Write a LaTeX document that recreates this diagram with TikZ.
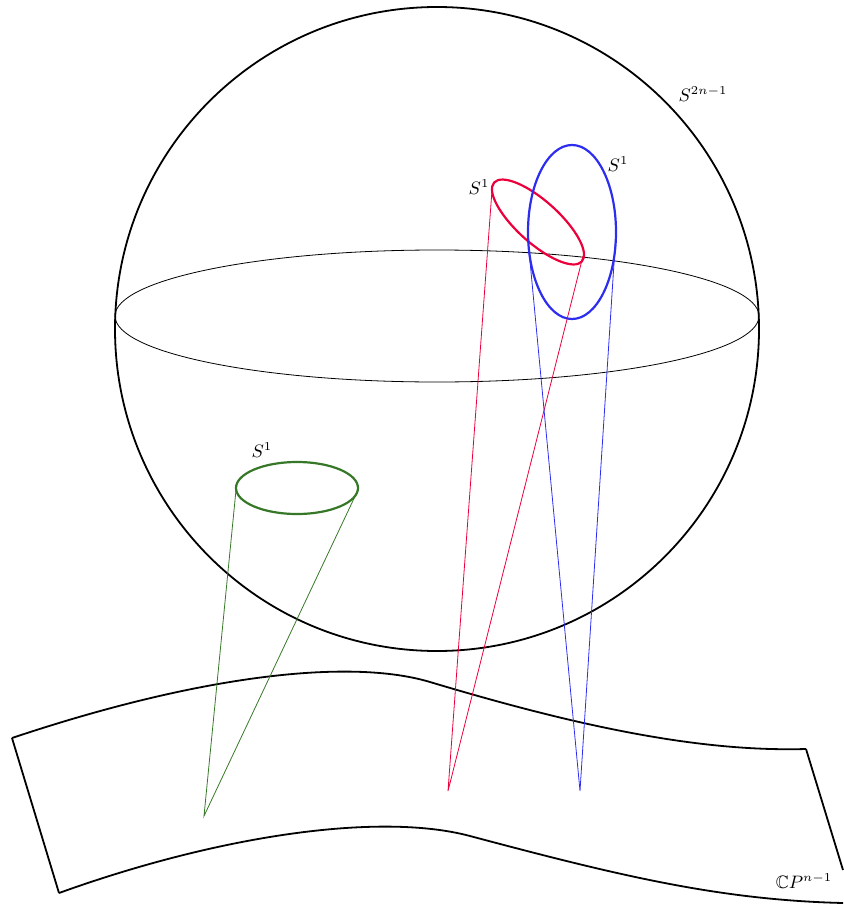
\documentclass[tikz,border=0pt]{standalone}
\usepackage{amsmath,amssymb}
\usepackage{tikz}
\usetikzlibrary{positioning,calc}

\definecolor{fibrered}{RGB}{235,0,60}
\definecolor{fibreblue}{RGB}{45,45,240}
\definecolor{fibregreen}{RGB}{55,120,40}

\begin{document}
\begin{tikzpicture}[x=0.5pt,y=-0.5pt]
    \useasboundingbox (0,0) rectangle (843,904);

    % Sphere S^{2n-1}
    \draw[line width=0.9pt] (437,329) circle[radius=322];
    \draw (437,316) ellipse[x radius=322, y radius=66];
    \node[font=\small] (sphlabel) at (703,94) {$S^{2n-1}$};

    % Fibres
    \draw[fibregreen, line width=1.1pt] (297,488) ellipse[x radius=61, y radius=26];
    \draw[fibrered, line width=1.1pt] (538,222) ellipse[x radius=59, y radius=21, rotate=-42];
    \draw[fibreblue, line width=1.1pt] (572,232) ellipse[x radius=44, y radius=87];
    \node[font=\small] (greenlabel) at (262,450) {$S^1$};
    \node[font=\small] (redlabel) at (479,187) {$S^1$};
    \node[font=\small] (bluelabel) at (618,164) {$S^1$};

    % Base CP^{n-1}
    \coordinate (topL) at (12,738);
    \coordinate (topR) at (806,749);
    \coordinate (botL) at (59,893);
    \coordinate (botR) at (843,870);
    \draw[line width=0.9pt] (topL) .. controls (200,675) and (350,658) .. (430,682)
        .. controls (580,727) and (700,752) .. (topR);
    \draw[line width=0.9pt] (botL) .. controls (220,835) and (380,812) .. (470,836)
        .. controls (620,876) and (720,900) .. (843,903);
    \draw[line width=0.9pt] (topL) -- (botL);
    \draw[line width=0.9pt] (topR) -- (botR);
    \node[font=\small] (cplabel) at (804,881) {$\mathbb{C}P^{n-1}$};

    % Projections
    \coordinate (greenA) at (236,490);
    \coordinate (greenB) at (358,490);
    \coordinate (greenfoot) at (204,816);
    \coordinate (redA) at (492,190);
    \coordinate (redB) at (583,256);
    \coordinate (redfoot) at (448,791);
    \coordinate (blueA) at (528,240);
    \coordinate (blueB) at (616,232);
    \coordinate (bluefoot) at (580,791);
    \draw[fibregreen] (greenA) -- (greenfoot) -- (greenB);
    \draw[fibrered] (redA) -- (redfoot) -- (redB);
    \draw[fibreblue] (blueA) -- (bluefoot) -- (blueB);
\end{tikzpicture}
\end{document}
